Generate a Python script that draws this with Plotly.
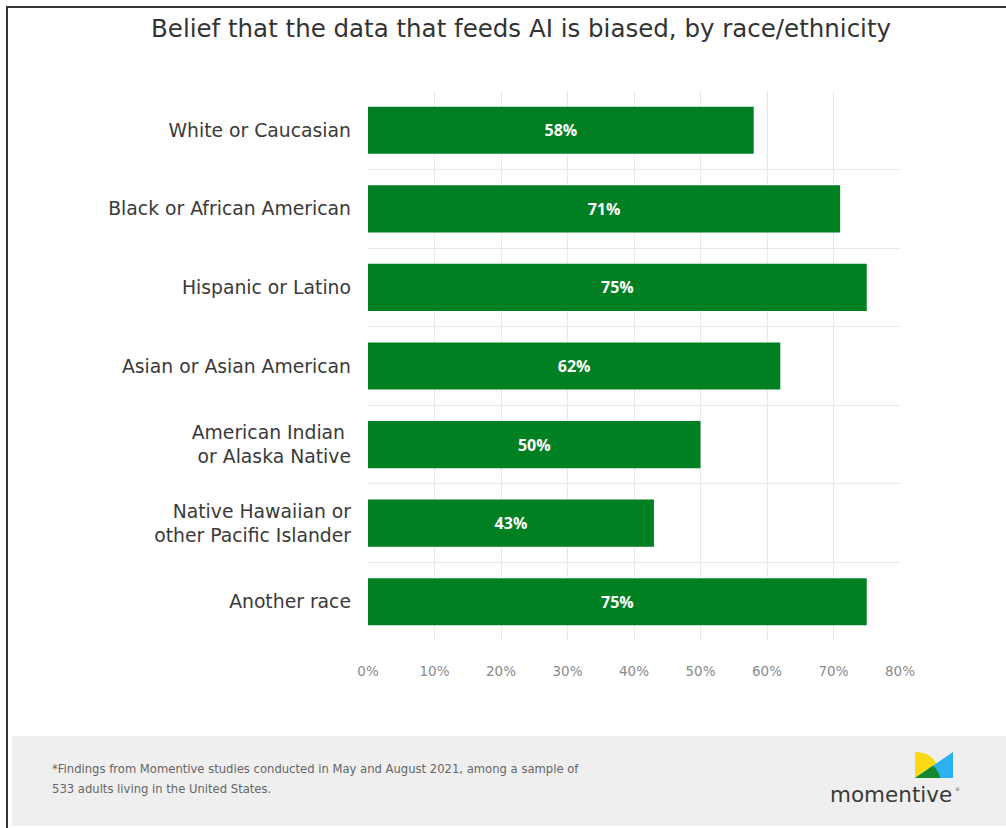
import plotly.graph_objects as go

categories = ["White or Caucasian", "Black or African American", "Hispanic or Latino",
              "Asian or Asian American", "American Indian <br>or Alaska Native",
              "Native Hawaiian or<br>other Pacific Islander", "Another race"]
values = [58, 71, 75, 62, 50, 43, 75]
x_ticks = [0, 10, 20, 30, 40, 50, 60, 70, 80]
x_tick_labels = [f"{v}%" for v in x_ticks]
title = "Belief that the data that feeds AI is biased, by race/ethnicity"
footnote_lines = ["*Findings from Momentive studies conducted in May and August 2021, among a sample of",
                  "533 adults living in the United States."]

W, H = 1006, 828
L, R, T, B = 368, 900, 91, 641
FONT = "DejaVu Sans"


def px(x):
    return (x - L) / (R - L)


def py(y):
    return (B - y) / (B - T)


fig = go.Figure(go.Bar(
    x=values, y=categories, orientation="h",
    marker=dict(color="#008023", line=dict(width=0)),
    width=0.6,
    text=[f"{v}%" for v in values],
    textposition="inside", insidetextanchor="middle",
    textfont=dict(color="white", size=16, family="Open Sans", weight="bold"),
    hoverinfo="skip",
))

shapes = []
# footer panel
shapes.append(dict(type="rect", xref="paper", yref="paper", x0=px(12), x1=px(1006),
                   y0=py(826), y1=py(736), fillcolor="#efefef", line=dict(width=0), layer="below"))
# frame lines
shapes.append(dict(type="line", xref="paper", yref="paper", x0=px(6), x1=px(1006),
                   y0=py(7), y1=py(7), line=dict(color="#333333", width=2)))
shapes.append(dict(type="line", xref="paper", yref="paper", x0=px(7), x1=px(7),
                   y0=py(7), y1=py(828), line=dict(color="#333333", width=2)))


def path(pts, close=True):
    s = ""
    for i, p in enumerate(pts):
        s += ("M" if i == 0 else "L") + f"{px(p[0]):.5f},{py(p[1]):.5f} "
    return s + ("Z" if close else "")


def arc_pts(x0, y0, x1, y1, cx, cy, n=12):
    pts = []
    for i in range(n + 1):
        t = i / n
        x = (1 - t) ** 2 * x0 + 2 * (1 - t) * t * cx + t ** 2 * x1
        y = (1 - t) ** 2 * y0 + 2 * (1 - t) * t * cy + t ** 2 * y1
        pts.append((x, y))
    return pts

# logo
yellow = arc_pts(915, 752, 940, 778, 938, 752) + [(915, 778)]
shapes.append(dict(type="path", xref="paper", yref="paper", path=path(yellow),
                   fillcolor="#fcd815", line=dict(width=0)))
shapes.append(dict(type="path", xref="paper", yref="paper",
                   path=path([(953, 752), (953, 778), (915, 778)]),
                   fillcolor="#2bb0f0", line=dict(width=0)))
green = [(915, 778), (933, 765.7)] + arc_pts(933, 765.7, 940, 778, 938.5, 770, 6)[1:]
shapes.append(dict(type="path", xref="paper", yref="paper", path=path(green),
                   fillcolor="#14882c", line=dict(width=0)))

annotations = [
    dict(text=title, xref="paper", yref="paper", x=px(521), y=py(28), xanchor="center",
         yanchor="middle", showarrow=False,
         font=dict(family=FONT, size=24.5, color="#333333")),
    dict(text=footnote_lines[0], xref="paper", yref="paper", x=px(50), y=py(769), xanchor="left",
         yanchor="middle", showarrow=False, align="left",
         font=dict(family=FONT, size=11.6, color="#666666")),
    dict(text=footnote_lines[1], xref="paper", yref="paper", x=px(50), y=py(789), xanchor="left",
         yanchor="middle", showarrow=False, align="left",
         font=dict(family=FONT, size=11.6, color="#666666")),
    dict(text="momentive", xref="paper", yref="paper", x=px(891), y=py(794), xanchor="center",
         yanchor="middle", showarrow=False,
         font=dict(family=FONT, size=21.5, color="#3a3a3a")),
    dict(text="®", xref="paper", yref="paper", x=px(957), y=py(789), xanchor="center",
         yanchor="middle", showarrow=False,
         font=dict(family=FONT, size=5, color="#555555")),
]

fig.update_layout(
    width=W, height=H,
    margin=dict(l=L, r=W - R, t=T, b=H - B),
    paper_bgcolor="white", plot_bgcolor="white",
    showlegend=False,
    shapes=shapes, annotations=annotations,
    font=dict(family=FONT),
    xaxis=dict(range=[0, 80], tickvals=x_ticks, ticktext=x_tick_labels,
               showgrid=True, gridcolor="#e9e9e9", gridwidth=1, zeroline=False,
               showline=False, ticks="", ticklabelstandoff=20,
               tickfont=dict(size=13.5, color="#8a8a8a", family=FONT), fixedrange=True),
    yaxis=dict(autorange="reversed", tickson="boundaries", showgrid=True,
               gridcolor="#e9e9e9", gridwidth=1, showline=False, ticks="",
               ticklabelstandoff=16,
               tickfont=dict(size=18.8, color="#3a3a3a", family=FONT),
               fixedrange=True),
)

fig.write_html("out.html")
